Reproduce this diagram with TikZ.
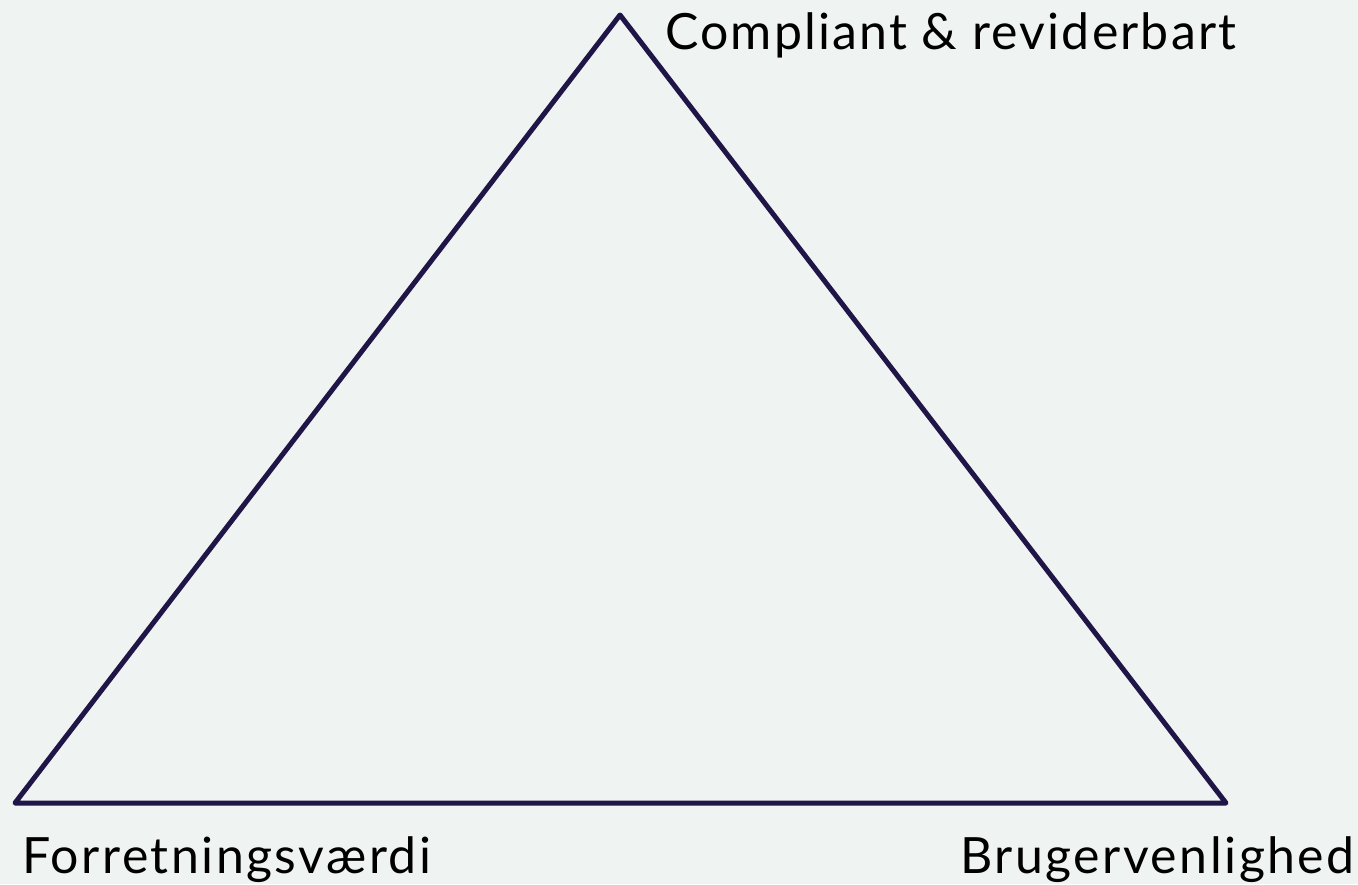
\documentclass[tikz,border=0pt]{standalone}
\usepackage{fontspec}
\setmainfont{Lato}
\newfontfamily\lblfont[LetterSpace=5]{Lato}
\newfontfamily\lbltopfont[LetterSpace=4.3]{Lato}
\definecolor{bg}{HTML}{EFF3F2}
\definecolor{edge}{HTML}{1F1547}
\begin{document}
\begin{tikzpicture}[x=1pt,y=-1pt,
  side/.style={draw=edge,line width=5pt,line join=round},
  lbl/.style={anchor=base west,inner sep=0pt,font=\lblfont\fontsize{50}{58}\selectfont,text=black}]
\fill[bg] (0,0) rectangle (1358,884);
\useasboundingbox (0,0) rectangle (1358,884);
\coordinate (top) at (620,15);
\coordinate (bl) at (15,803);
\coordinate (br) at (1226,803);
\draw[side] (top) -- (br) -- (bl) -- cycle;
\node[lbl,font=\lbltopfont\fontsize{50}{58}\selectfont] (ltop) at (665,49) {Compliant \& reviderbart};
\node[lbl] (lbl) at (22,873) {Forretningsværdi};
\node[lbl] (lbr) at (960,873) {Brugervenlighed};
\end{tikzpicture}
\end{document}
